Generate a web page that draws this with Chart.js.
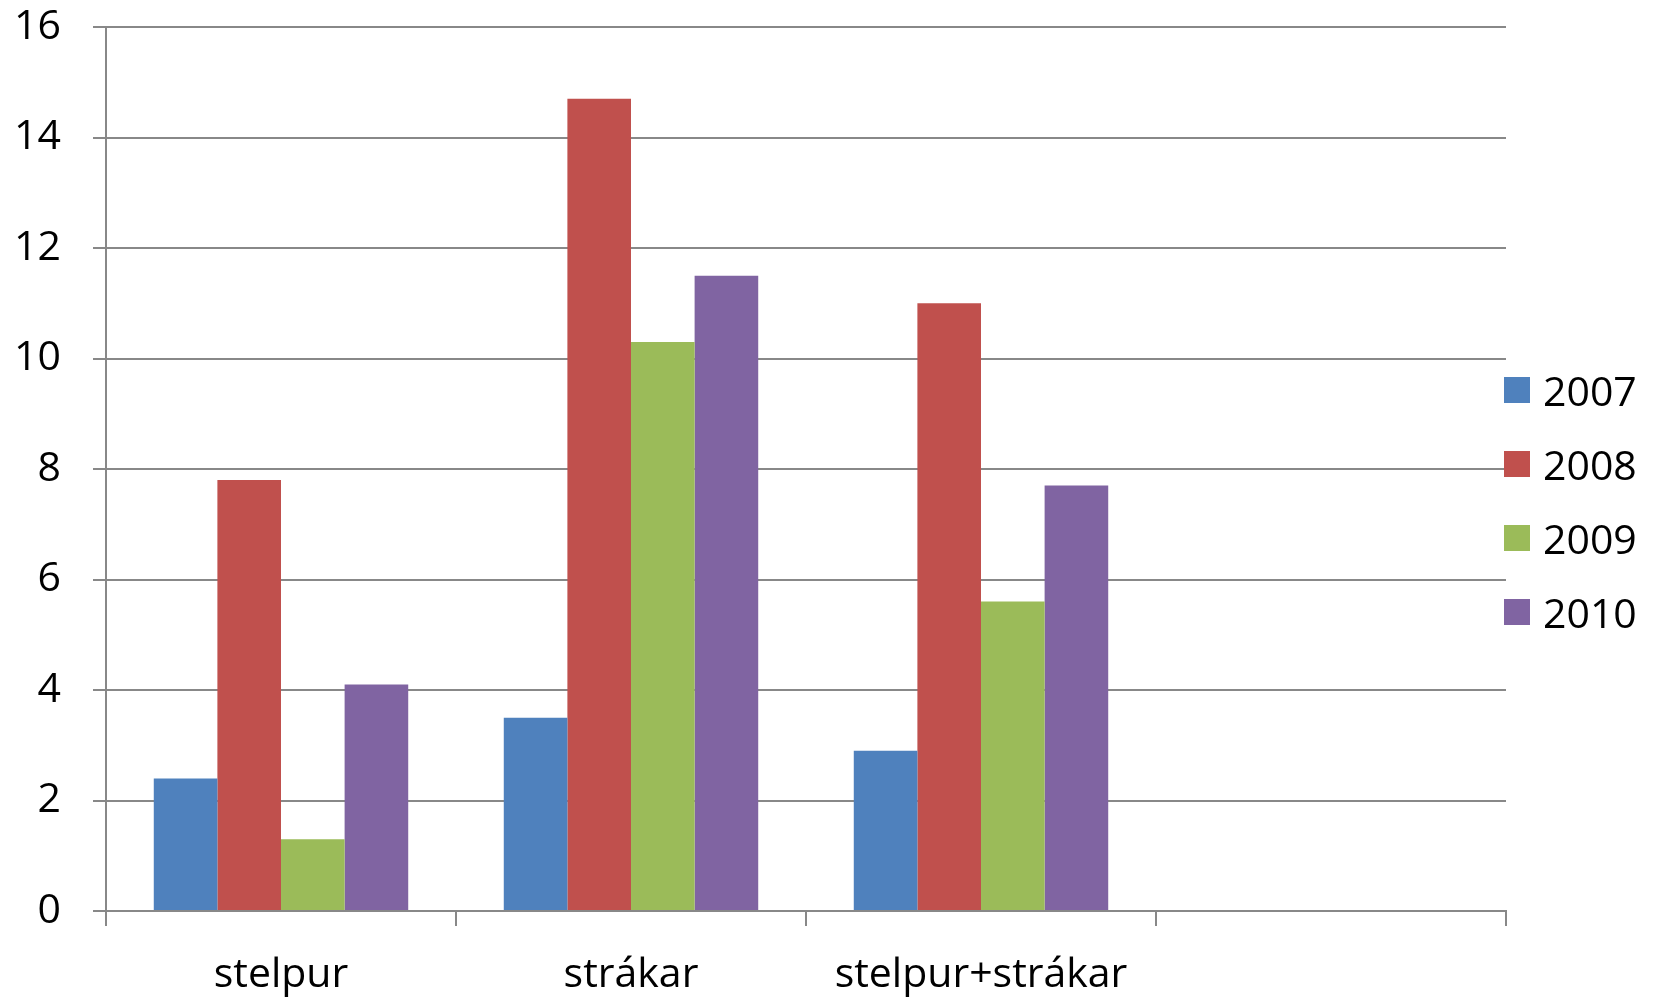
<!DOCTYPE html>
<html>
<head>
<meta charset="utf-8">
<title>stelpur / strákar</title>
<script src="https://cdn.jsdelivr.net/npm/chart.js@4"></script>
<style>
    html, body { margin: 0; padding: 0; background: #fff; }
    #wrap { position: relative; width: 1654px; height: 998px; }
    #legend {
        position: absolute; left: 1504px; top: 353px;
        font-family: "Open Sans", "DejaVu Sans", sans-serif; font-size: 41px; color: #000;
    }
    .lg-item { display: flex; align-items: center; height: 74px; }
    .lg-box { width: 26px; height: 26px; margin-right: 13px; }
</style>
</head>
<body>
<div id="wrap">
    <canvas id="chart" width="1654" height="998"></canvas>
    <div id="legend"></div>
</div>
<script>
// categories (the 4th slot is empty in the original sheet)
const categories = ['stelpur', 'strákar', 'stelpur+strákar', ''];
const years = ['2007', '2008', '2009', '2010'];

const values2007 = [2.4, 3.5, 2.9, null];
const values2008 = [7.8, 14.7, 11.0, null];
const values2009 = [1.3, 10.3, 5.6, null];
const values2010 = [4.1, 11.5, 7.7, null];

const yTicks = [0, 2, 4, 6, 8, 10, 12, 14, 16];

const colors = ['#4F81BD', '#C0504D', '#9BBB59', '#8064A2'];
const gridColor = '#888888';
const FONT = '"Open Sans", "DejaVu Sans", sans-serif';

(function () {
    const series = [values2007, values2008, values2009, values2010];

    const ctx = document.getElementById('chart').getContext('2d');
    const chart = new Chart(ctx, {
        type: 'bar',
        data: {
            labels: categories,
            datasets: series.map((vals, i) => ({
                label: years[i],
                data: vals,
                backgroundColor: colors[i],
                borderWidth: 0,
                barPercentage: 1.0,
                categoryPercentage: 0.727
            }))
        },
        options: {
            responsive: false,
            animation: false,
            devicePixelRatio: 1,
            layout: { padding: { top: 27, left: 0, right: 148, bottom: 0 } },
            plugins: {
                legend: { display: false },
                tooltip: { enabled: false }
            },
            scales: {
                x: {
                    offset: true,
                    grid: {
                        offset: true,
                        drawOnChartArea: false,
                        drawTicks: true,
                        tickLength: 15,
                        color: gridColor,
                        lineWidth: 2
                    },
                    border: { color: gridColor, width: 2 },
                    ticks: {
                        color: '#000',
                        padding: 25,
                        maxRotation: 0,
                        autoSkip: false,
                        font: { family: FONT, size: 41 }
                    },
                    afterFit: s => { s.height = 87; s.paddingRight = 0; }
                },
                y: {
                    min: 0,
                    max: 16,
                    afterBuildTicks: s => { s.ticks = yTicks.map(v => ({ value: v })); },
                    grid: {
                        color: gridColor,
                        lineWidth: 2,
                        tickLength: 13
                    },
                    border: { color: gridColor, width: 2 },
                    ticks: {
                        color: '#000',
                        padding: 32,
                        font: { family: FONT, size: 41 }
                    },
                    afterFit: s => { s.width = 106; s.paddingTop = 0; s.paddingBottom = 0; }
                }
            }
        }
    });

    // legend built from the chart's own datasets
    document.getElementById('legend').innerHTML = chart.data.datasets.map(d => `
        <div class="lg-item">
            <span class="lg-box" style="background:${d.backgroundColor}"></span>
            <span>${d.label}</span>
        </div>
    `).join('');
})();
</script>
</body>
</html>
